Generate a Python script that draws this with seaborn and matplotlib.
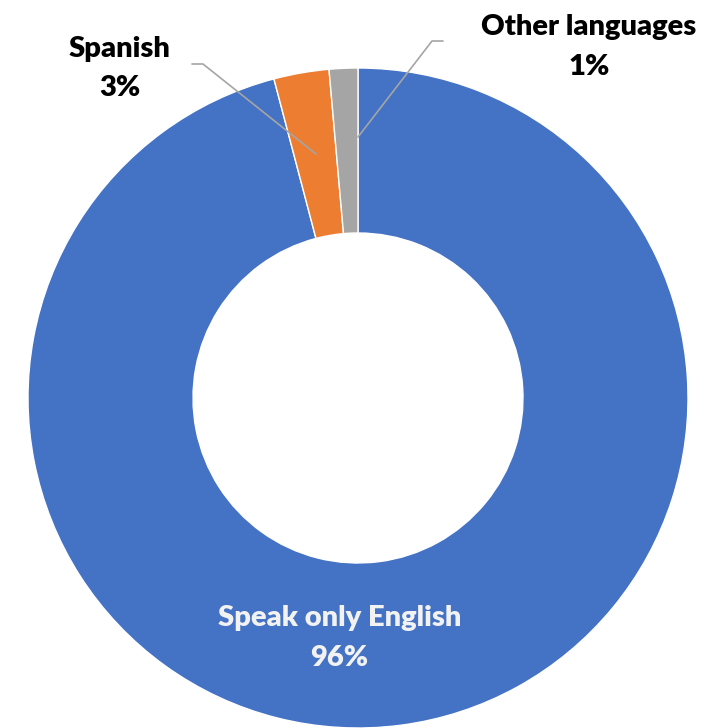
import matplotlib
matplotlib.use("Agg")
import matplotlib.pyplot as plt
import seaborn as sns

# Language spoken at home (share of population, %)
languages = ["Speak only English", "Spanish", "Other languages"]
shares = [95.9, 2.7, 1.4]
slice_colors = ["#4472C4", "#ED7D31", "#A5A5A5"]

sns.set_theme(style="white")
plt.rcParams["font.family"] = ["Lato", "DejaVu Sans"]

W, H = 724, 728
fig = plt.figure(figsize=(W / 100, H / 100), dpi=100)
fig.patch.set_facecolor("white")

# donut centre at (358, 398) px from top-left, outer radius 330 px
cx, cy, r = 358, 398, 330
ax = fig.add_axes([(cx - r) / W, (H - cy - r) / H, 2 * r / W, 2 * r / H])

wedges, _ = ax.pie(
    shares,
    colors=slice_colors,
    startangle=90,
    counterclock=False,
    radius=1.0,
    wedgeprops=dict(width=0.5, edgecolor="white", linewidth=1.0),
)
ax.set_xlim(-1, 1)
ax.set_ylim(-1, 1)
ax.set_aspect("equal")
ax.axis("off")
for w in wedges:
    w.set_clip_on(False)


def px(x, y):
    return (x - cx) / r, (cy - y) / r


label_font = dict(fontsize=21, fontweight="heavy", ha="center", va="baseline", clip_on=False)

# Speak only English - inside the ring
x0, y0 = px(339.5, 626)
ax.text(x0, y0, languages[0], color="#F2F2F2", **label_font)
x1, y1 = px(339.5, 666)
ax.text(x1, y1, f"{shares[0]:.0f}%", color="#F2F2F2", **label_font)

# Spanish - outside with leader line
x0, y0 = px(119.5, 57)
ax.text(x0, y0, languages[1], color="black", **label_font)
x1, y1 = px(119.5, 96)
ax.text(x1, y1, f"{shares[1]:.0f}%", color="black", **label_font)
pts = [px(316, 154), px(203, 64), px(192, 64)]
ax.plot([p[0] for p in pts], [p[1] for p in pts], color="#A5A5A5", lw=1.2, clip_on=False)

# Other languages - outside with leader line
x0, y0 = px(589, 35)
ax.text(x0, y0, languages[2], color="black", **label_font)
x1, y1 = px(589, 75)
ax.text(x1, y1, f"{shares[2]:.0f}%", color="black", **label_font)
pts = [px(358, 137), px(432, 41), px(443, 41)]
ax.plot([p[0] for p in pts], [p[1] for p in pts], color="#A5A5A5", lw=1.2, clip_on=False)

fig.savefig("out.png", dpi=100, facecolor="white")
